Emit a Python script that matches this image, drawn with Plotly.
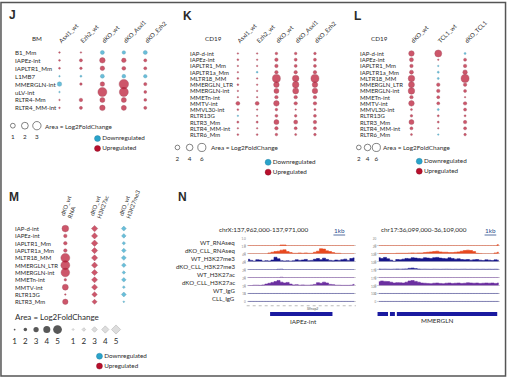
import numpy as np
import plotly.graph_objects as go

W, H = 520, 379
FONT = "Lato"
RED, RED_EDGE = "#B80F2C", "#7E0B20"
TEAL, TEAL_EDGE = "#2AA3CA", "#1E7C9C"
TXT = "#2b2b2b"

# ---------------- data ----------------
J_rows = ["B1_Mm", "IAPEz-int", "IAPLTR1_Mm", "L1MB7", "MMERGLN-int", "uLV-int", "RLTR4-Mm", "RLTR4_MM-int"]
J_cols = ["Asxl1_wt", "Ezh2_wt", "dKO_wt", "dKO_Asxl1", "dKO_Ezh2"]
J_vals = [
    [0.12, 0.10, -0.69, -0.53, -0.69],
    [0.15, 0.40, 1.31, 0.88, 0.40],
    [0.15, 0.27, 0.88, 0.63, 0.40],
    [-0.10, -0.17, -0.69, -0.60, -0.53],
    [-0.88, 0.27, 0.88, 3.90, 0.45],
    [-0.10, 0.00, 3.50, 3.50, 0.35],
    [0.10, 0.53, 1.09, 1.10, 0.35],
    [0.12, 0.40, 1.31, 1.10, 0.40],
]
J_key = [1, 2, 3]

K_rows = ["IAP-d-int", "IAPEz-int", "IAPLTR1_Mm", "IAPLTR1a_Mm", "MLTR18_MM", "MMERGLN_LTR",
          "MMERGLN-int", "MMETn-int", "MMTV-int", "MMVL30-int", "RLTR13G", "RLTR3_Mm",
          "RLTR4_MM-int", "RLTR6_Mm"]
K_cols = ["Asxl1_wt", "Ezh2_wt", "dKO_wt", "dKO_Asxl1", "dKO_Ezh2"]
K_vals = [
    [0.15, 0.20, 0.60, 0.60, 0.60],
    [0.30, 0.20, 1.10, 0.80, 0.80],
    [0.20, 0.15, 1.10, 0.80, 0.80],
    [0.20, -0.30, 1.10, 1.10, 1.10],
    [0.30, 0.20, 5.90, 3.90, 5.90],
    [0.30, 0.20, 2.80, 3.90, 2.80],
    [0.20, 0.20, 2.30, 3.30, 2.80],
    [0.20, 0.15, 1.10, 1.10, 1.10],
    [1.40, 1.40, 2.80, 1.10, 1.10],
    [0.30, 0.20, 0.60, 0.20, 0.40],
    [-0.20, 0.20, 0.80, 0.60, 0.80],
    [0.40, 0.40, 2.30, 1.50, 1.10],
    [0.15, 0.20, 1.10, 0.80, 0.80],
    [0.30, 0.30, 0.60, 0.40, 0.60],
]
K_key = [2, 4, 6]

L_rows = K_rows
L_cols = ["dKO_wt", "TCL1_wt", "dKO_TCL1"]
L_vals = [
    [2.80, 4.50, -0.37],
    [1.50, 0.20, 0.83],
    [1.10, -0.20, 1.10],
    [1.50, -0.37, 1.90],
    [3.90, -0.37, 5.90],
    [3.30, 1.10, 1.10],
    [3.90, 1.10, 0.83],
    [1.10, 0.83, 0.20],
    [2.80, 0.83, 1.10],
    [0.37, -0.37, 0.83],
    [0.57, 0.37, 0.37],
    [2.30, 0.37, 1.10],
    [0.83, 0.20, 0.83],
    [0.37, -0.20, 0.57],
]
L_key = [2, 4, 6]

M_rows = ["IAP-d-int", "IAPEz-int", "IAPLTR1_Mm", "IAPLTR1a_Mm", "MLTR18_MM", "MMERGLN_LTR",
          "MMERGLN-int", "MMETn-int", "MMTV-int", "RLTR13G", "RLTR3_Mm"]
M_cols = ["dKO_wt<br>RNA", "dKO_wt<br>H3K27ac", "dKO_wt<br>H3K27me3"]
M_vals = [
    [3.8, 3.5, -2.7],
    [2.0, 3.4, -2.5],
    [2.0, 3.6, -1.9],
    [2.0, 3.4, -2.5],
    [5.1, 3.4, -2.7],
    [5.1, 3.4, -2.5],
    [4.9, 3.4, -1.9],
    [1.4, 3.3, -2.5],
    [3.4, 3.3, -1.6],
    [0.9, 3.0, -2.7],
    [3.1, 2.8, -1.1],
]
M_key = [1, 2, 3, 4, 5]

KEY_NAMES = ["Downregulated", "Upregulated"]

# genome browser tracks (250 bp bins)
N_labels = ["WT_RNAseq", "dKO_CLL_RNAseq", "WT_H3K27me3", "dKO_CLL_H3K27me3",
            "WT_H3K27ac", "dKO_CLL_H3K27ac", "WT_IgG", "CLL_IgG"]
NL_region = (137962000, 137971000)
NL_title = "chrX:137,962,000-137,971,000"
NL_max = [1.0, 1.0, 45, 45, 25, 25, 15, 15]
NL_tracks = [
    [0]*11 + [0.1, 0.1] + [0]*23,
    [0, 0, 0, 0, 0, 0, 0, 0.1, 0.2, 0.3, 0.35, 0.5, 0.55, 0.3, 0.15, 0.05, 0.05, 0.1,
     0.05, 0.1, 0.05, 0.05, 0.2, 0.35, 0.7, 0.65, 0.4, 0.3, 0.15, 0.05, 0.05, 0, 0, 0, 0, 0],
    [15, 8, 3, 12, 10, 3, 6, 4, 10, 28, 18, 6, 4, 5, 3, 5, 12, 8, 10, 14, 6, 8, 15, 20,
     12, 22, 14, 8, 5, 10, 8, 12, 16, 8, 20, 24],
    [0]*10 + [2, 2.5] + [0]*24,
    [0]*11 + [1] + [0]*24,
    [0, 0, 1, 1, 0.5, 2, 5, 8, 11, 14, 18, 12, 9, 11, 5, 2, 3, 1, 2, 1, 1, 2, 4, 10,
     8, 12, 9, 4, 3, 1, 1, 0.5, 0.5, 0.5, 1, 4],
    [0]*36,
    [0]*36,
]
NL_genes = [(137963930, 137969070)]
NL_gene_name = "IAPEz-int"

NR_region = (36099000, 36109000)
NR_title = "chr17:36,099,000-36,109,000"
NR_max = [20, 20, 100, 100, 170, 170, 100, 100]
NR_tracks = [
    [0]*39 + [3],
    [0.5, 0.5, 0.5, 0.5, 0.5, 0.5, 1, 1, 1, 1, 1.5, 2, 1.5, 2, 2, 3, 4, 5, 6, 7,
     5, 4, 4, 3, 3, 4, 5, 7, 9, 10, 9, 6, 1, 0.5, 0, 0, 0, 0, 2, 4],
    [55, 45, 60, 40, 20, 5, 30, 25, 35, 45, 40, 55, 50, 45, 40, 55, 50, 45, 55, 60,
     50, 45, 40, 55, 45, 35, 40, 30, 25, 30, 20, 25, 30, 20, 15, 25, 20, 15, 25, 20],
    [8, 5, 6, 5, 4, 6, 8, 6, 8, 10, 18, 22, 15, 8, 5, 6, 5, 4, 6, 5,
     4, 5, 6, 5, 4, 5, 4, 5, 6, 4, 5, 4, 5, 4, 5, 4, 5, 4, 5, 4],
    [0]*40,
    [90, 110, 100, 95, 80, 60, 70, 65, 60, 80, 110, 120, 100, 80, 60, 55, 50, 45, 55, 60,
     50, 45, 55, 60, 50, 55, 60, 50, 55, 65, 60, 55, 60, 50, 55, 60, 55, 60, 50, 60],
    [0]*40,
    [0]*40,
]
NR_genes = [(36099000, 36099870), (36100030, 36100430), (36100590, 36108760)]
NR_gene_name = "MMERGLN"

TRACK_COLORS = ["#E8481E", "#E8481E", "#16168A", "#2A2A9A", "#6B2FA0", "#6B2FA0", "#16168A", "#16168A"]

# ---------------- helpers ----------------
fig = go.Figure()
layout = {}
annotations = []
shapes = []
axn = [0]


def fx(p):
    return p / W


def fy(p):
    return 1 - p / H


BASE = dict(showgrid=False, zeroline=False, showline=False, ticks="", showticklabels=False,
            fixedrange=True)


def new_axes(xd, yd, xkw=None, ykw=None):
    axn[0] += 1
    n = axn[0]
    s = "" if n == 1 else str(n)
    xa = dict(BASE)
    xa.update(domain=[fx(xd[0]), fx(xd[1])], anchor="y" + s)
    xa.update(xkw or {})
    ya = dict(BASE)
    ya.update(domain=[fy(yd[1]), fy(yd[0])], anchor="x" + s)
    ya.update(ykw or {})
    layout["xaxis" + s] = xa
    layout["yaxis" + s] = ya
    return "x" + s, "y" + s


def text(t, px, py, size=6.3, anchor="left", bold=False, color=TXT, family=FONT):
    annotations.append(dict(text=("<b>%s</b>" % t) if bold else t, x=fx(px), y=fy(py),
                            xref="paper", yref="paper", xanchor=anchor, yanchor="middle",
                            showarrow=False, font=dict(size=size, family=family, color=color)))


def dot_panel(rows, cols, vals, xd, yd, header_py, label_px, size_fn, symbols=None,
              tickangle=-45, hfs=6.0, lfs=6.2):
    xa, ya = new_axes(
        xd, yd,
        dict(type="category", categoryorder="array", categoryarray=cols,
             range=[-0.5, len(cols) - 0.5], side="top", anchor="free", position=fy(header_py),
             showticklabels=True, tickangle=tickangle,
             tickfont=dict(size=hfs, family=FONT, color=TXT)),
        dict(type="category", categoryorder="array", categoryarray=rows,
             range=[len(rows) - 0.5, -0.5]))
    for sign, col, edge in [(1, RED, RED_EDGE), (-1, TEAL, TEAL_EDGE)]:
        xs, ys, ss, sy = [], [], [], []
        for i, r in enumerate(rows):
            for j, c in enumerate(cols):
                v = vals[i][j]
                if v * sign > 0:
                    sym = symbols[j] if symbols else "circle"
                    xs.append(c)
                    ys.append(r)
                    ss.append(size_fn(abs(v), sym))
                    sy.append(sym)
        fig.add_trace(go.Scatter(x=xs, y=ys, xaxis=xa, yaxis=ya, mode="markers",
                                 marker=dict(size=ss, symbol=sy, color=col,
                                             line=dict(color=edge, width=0.4)),
                                 showlegend=False, hoverinfo="skip", cliponaxis=False))
    for i, r in enumerate(rows):
        annotations.append(dict(text=r, x=fx(label_px), xref="paper", xanchor="left",
                                y=i, yref=ya, yanchor="middle", showarrow=False,
                                font=dict(size=lfs, family=FONT, color=TXT)))


def size_key(values, xd, yd, num_py, size_fn, symbol, color, line_color, fs=6.3, lw=0.8):
    cats = [str(v) for v in values]
    xa, ya = new_axes(
        xd, yd,
        dict(type="category", categoryorder="array", categoryarray=cats,
             range=[-0.5, len(cats) - 0.5], side="bottom", anchor="free",
             position=fy(num_py), showticklabels=True,
             tickfont=dict(size=fs, family=FONT, color=TXT)),
        dict(range=[-1, 1]))
    fig.add_trace(go.Scatter(x=cats, y=[0] * len(cats), xaxis=xa, yaxis=ya, mode="markers",
                             marker=dict(size=[size_fn(v, symbol) for v in values], symbol=symbol,
                                         color=color, line=dict(color=line_color, width=lw)),
                             showlegend=False, hoverinfo="skip", cliponaxis=False))


def color_key(xd, yd, fs=6.3):
    xa, ya = new_axes(xd, yd, dict(range=[-1, 1]), dict(range=[1.5, -0.5]))
    fig.add_trace(go.Scatter(x=[0, 0], y=list(range(len(KEY_NAMES))), xaxis=xa, yaxis=ya,
                             mode="markers+text", text=KEY_NAMES, textposition="middle right",
                             textfont=dict(size=fs, family=FONT, color=TXT),
                             marker=dict(size=6, color=[TEAL, RED],
                                         line=dict(color=[TEAL_EDGE, RED_EDGE], width=0.4)),
                             showlegend=False, hoverinfo="skip", cliponaxis=False))


def sz_J(v, sym):
    return max(1.5, 4.8 * np.sqrt(v))


def sz_KL(v, sym):
    return max(1.5, 3.3 * np.sqrt(v))


def sz_M(v, sym):
    return max(1.5, (1.4 if sym.startswith("diamond") else 1.75) * v)


def browser(xd, region, tracks, maxes, labels, genes, gene_name, title, title_px, kb_px,
            dotted=False):
    axn[0] += 1
    n = axn[0]
    xs = str(n)
    xname = "x" + xs
    layout["xaxis" + xs] = dict(domain=[fx(xd[0]), fx(xd[1])], range=list(region),
                                anchor="y" + xs, visible=False, fixedrange=True)
    bins = np.arange(len(tracks[0])) * 250 + region[0] + 125
    for k, (vals, mx, col) in enumerate(zip(tracks, maxes, TRACK_COLORS)):
        if k > 0:
            axn[0] += 1
        ys = str(axn[0])
        bottom = 246.5 + 8.05 * k
        top = bottom - 7.3
        layout["yaxis" + ys] = dict(
            domain=[fy(bottom), fy(top)], anchor=xname, range=[-0.03 * mx, mx],
            showgrid=False, zeroline=True, zerolinecolor="#d6d6d6", zerolinewidth=0.7,
            showline=False, ticks="", fixedrange=True, showticklabels=True,
            tickvals=[0, mx], ticktext=["0", ("%g" % mx) if mx >= 2 else "%.1f" % mx],
            tickfont=dict(size=3.0, family=FONT, color="#888"))
        fig.add_trace(go.Scatter(x=bins, y=vals, xaxis=xname, yaxis="y" + ys, mode="lines",
                                 line=dict(color=col, width=0.6, shape="hvh"),
                                 fill="tozeroy", fillcolor=col, showlegend=False,
                                 hoverinfo="skip"))
        if labels:
            annotations.append(dict(text=labels[k], x=fx(243), xref="paper", xanchor="right",
                                    y=0.45, yref="y" + ys + " domain", yanchor="middle",
                                    showarrow=False,
                                    font=dict(size=6.1, family=FONT, color=TXT)))
    # gene track
    axn[0] += 1
    gs = str(axn[0])
    layout["yaxis" + gs] = dict(domain=[fy(319), fy(304)], anchor=xname, range=[0, 2],
                                visible=False, fixedrange=True)
    for (g0, g1) in genes:
        fig.add_trace(go.Scatter(x=[g0, g1], y=[0.5, 0.5], xaxis=xname, yaxis="y" + gs,
                                 mode="lines", line=dict(color="#1A1AA0", width=4),
                                 showlegend=False, hoverinfo="skip"))
    if dotted:
        shapes.append(dict(type="line", xref=xname + " domain", yref="y" + gs, x0=0, x1=1,
                           y0=1.6, y1=1.6, line=dict(color="#aaaaaa", width=0.8, dash="dot")))
    text(title, title_px, 230, size=6.4, anchor="center")
    text("1kb", kb_px, 230.5, size=6.4, anchor="center", color="#2B4C8C")
    shapes.append(dict(type="line", xref="paper", yref="paper", x0=fx(kb_px - 6),
                       x1=fx(kb_px + 6), y0=fy(235.5), y1=fy(235.5),
                       line=dict(color="#2B4C8C", width=0.8)))
    return gene_name


# ---------------- panel J ----------------
text("J", 7, 13, size=12, bold=True, family="Liberation Sans")
text("BM", 38, 36.5, size=6.3, anchor="center")
dot_panel(J_rows, J_cols, J_vals, (50, 160), (47, 111), 44, 13, sz_J)
size_key(J_key, (7, 44), (120, 130), 131, sz_J, "circle-open", "#222", "#222")
text("Area = Log2FoldChange", 44, 125.5, size=6.4)
color_key((97, 103), (133, 153))

# ---------------- panel K ----------------
text("K", 186, 14, size=12, bold=True, family="Liberation Sans")
text("CD19", 219, 36.5, size=6.3, anchor="center")
dot_panel(K_rows, K_cols, K_vals, (234.1, 332.9), (48.85, 137.15), 44, 193, sz_KL, lfs=6.0)
size_key(K_key, (175.75, 213.25), (142, 152), 153, sz_KL, "circle-open", "#222", "#222")
text("Area = Log2FoldChange", 214, 147, size=6.4)
color_key((272, 278), (157, 177))

# ---------------- panel L ----------------
text("L", 361, 14, size=12, bold=True, family="Liberation Sans")
text("CD19", 389, 36.5, size=6.3, anchor="center")
dot_panel(L_rows, L_cols, L_vals, (408.25, 490.75), (48.85, 137.15), 44, 367, sz_KL, lfs=6.0)
size_key(L_key, (363.5, 390.5), (142, 152), 153, sz_KL, "circle-open", "#222", "#222")
text("Area = Log2FoldChange", 391, 147, size=6.4)
color_key((427, 433), (156, 176))

# ---------------- panel M ----------------
text("M", 7, 197, size=12, bold=True, family="Liberation Sans")
dot_panel(M_rows, M_cols, M_vals, (52, 142), (225.3, 306.7), 221, 13, sz_M,
          symbols=["circle", "diamond", "diamond"], tickangle=-70, hfs=5.8, lfs=6.0)
text("Area = Log2FoldChange", 13, 318, size=8)
size_key(M_key, (9.5, 64.5), (326, 336), 337, sz_M, "circle", "#111", "#111", fs=8, lw=0)
size_key(M_key, (69.5, 124.5), (326, 336), 337, sz_M, "diamond", "#cfcfcf", "#9a9a9a", fs=8, lw=0.6)
color_key((99, 105), (353, 373))

# ---------------- panel N ----------------
text("N", 181, 197, size=12, bold=True, family="Liberation Sans")
gl = browser((253, 365), NL_region, NL_tracks, NL_max, N_labels, NL_genes, NL_gene_name,
             NL_title, 271, 348, dotted=True)
text(gl, 311, 323, size=6.4, anchor="center")
text("Slfnap2", 320, 310.5, size=3.4, anchor="center", color="#555")
gr = browser((387, 513), NR_region, NR_tracks, NR_max, None, NR_genes, NR_gene_name,
             NR_title, 435, 503)
text(gr, 448, 321.5, size=6.4, anchor="center")

# frame
shapes.append(dict(type="rect", xref="paper", yref="paper", x0=fx(1), x1=fx(518.5),
                   y0=fy(378), y1=fy(0.5), line=dict(color="#555555", width=1.5)))

layout.update(width=W, height=H, autosize=False, margin=dict(l=0, r=0, t=0, b=0),
              paper_bgcolor="white", plot_bgcolor="white", showlegend=False,
              annotations=annotations, shapes=shapes,
              font=dict(family=FONT, color=TXT))
fig.update_layout(**layout)
fig.write_html("out.html", config={"displayModeBar": False},
               post_script="document.body.style.margin='0px';document.body.style.padding='0px';")
